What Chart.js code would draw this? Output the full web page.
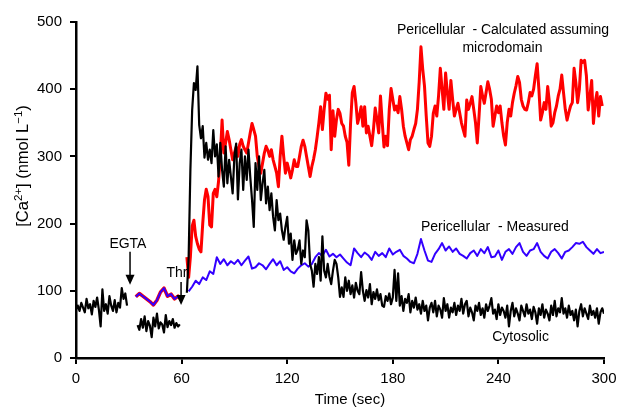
<!DOCTYPE html>
<html>
<head>
<meta charset="utf-8">
<script src="https://cdn.jsdelivr.net/npm/chart.js@4.4.0/dist/chart.umd.min.js"></script>
<style>
  html, body { margin: 0; padding: 0; background: #fff; }
  #wrap { width: 618px; height: 408px; }
</style>
</head>
<body>
<div id="wrap"><canvas id="chart" width="618" height="408"></canvas></div>
<script>
// 축 눈금
const xTicks = [0, 60, 120, 180, 240, 300];
const yTicks = [0, 100, 200, 300, 400, 500];

// 세포질 Ca2+ (검정) - 1초 간격
const cytoBeforeStart = 0;
const cytoBefore = [72, 78, 70, 82, 75, 68, 88, 74, 80, 65, 85, 76, 90, 72, 47, 102, 70, 80, 66, 92,
    78, 70, 86, 68, 82, 75, 104, 88, 96, 78];
const cytoEgtaStart = 35;
const cytoEgta = [49, 42, 58, 45, 62, 40, 55, 48, 31, 60, 47, 66, 44, 53, 50, 38, 64, 46, 55, 49,
    58, 45, 52, 47, 50];
const cytoAfterStart = 63;
const cytoAfter = [
    97, 150, 280, 369, 409, 399, 434, 347, 327, 345,
    298, 320, 295, 310, 290, 339, 300, 318, 270, 320,
    280, 255, 315, 260, 295, 270, 245, 300, 319, 236,
    290, 310, 250, 300, 265, 310, 270, 236, 195, 290,
    250, 300, 235, 260, 280, 230, 255, 220, 245, 210,
    190, 235, 205, 215, 190, 176, 195, 210, 170, 185,
    146, 175, 155, 161, 175, 140, 160, 150, 205, 190,
    140, 130, 106, 140, 125, 150, 115, 181, 130, 120,
    140, 121, 110, 130, 146, 140, 120, 91, 105, 91,
    120, 100, 115, 95, 108, 90, 112, 100, 95, 128,
    100, 85, 101, 90, 110, 80, 98, 88, 102, 86,
    95, 78, 76, 92, 85, 96, 80, 90, 131, 85,
    126, 78, 92, 70, 88, 82, 95, 68, 85, 75,
    90, 72, 80, 66, 85, 70, 78, 56, 75, 82,
    68, 85, 62, 78, 72, 60, 89, 70, 80, 60,
    75, 68, 82, 64, 78, 70, 88, 66, 80, 85,
    62, 75, 68, 56, 78, 70, 82, 64, 74, 60,
    80, 70, 78, 89, 66, 72, 58, 80, 64, 75,
    70, 60, 78, 47, 70, 82, 62, 74, 66, 56,
    78, 70, 62, 80, 66, 72, 58, 76, 68, 51,
    74, 64, 80, 60, 72, 66, 56, 78, 64, 85,
    62, 74, 68, 89, 66, 74, 60, 78, 64, 70,
    56, 72, 47, 70, 80, 62, 74, 66, 58, 78,
    64, 70, 60, 74, 51, 68, 74, 66];

// 세포 주위 측정값 (파랑) - 2초 간격
const measuredBeforeStart = 34;
const measuredBefore = [91, 96, 92, 88, 84, 79, 86, 98, 104, 92, 95, 88, 92, 86];
const measuredAfterStart = 64;
const measuredAfter = [
    99, 106, 115, 110, 120, 116, 129, 125, 150, 140,
    147, 138, 144, 140, 146, 138, 145, 151, 133, 135,
    141, 138, 132, 140, 147, 138, 144, 131, 135, 129,
    126, 133, 138, 141, 136, 140, 150, 156, 152, 161,
    151, 155, 150, 154, 148, 142, 138, 163, 156, 150,
    157, 153, 146, 158, 152, 156, 150, 163, 154, 158,
    161, 152, 148, 143, 141, 155, 177, 160, 145, 143,
    155, 162, 171, 160, 166, 158, 163, 155, 152, 148,
    156, 160, 152, 162, 156, 165, 150, 151, 160, 146,
    158, 162, 155, 165, 171, 158, 152, 160, 162, 171,
    158, 152, 148, 158, 162, 156, 148, 158, 160, 165,
    171, 170, 173, 165, 160, 155, 162, 156, 158];

// 미세영역 가정 계산값 (빨강)
const calcBeforeStart = 34;
const calcBefore = [91, 96, 92, 88, 84, 79, 86, 98, 104, 92, 95, 88, 92, 86];
const calcAfterStart = 63;
const calcAfter = [
    150, 120, 151, 196, 205, 181, 170, 162, 158, 200,
    235, 251, 240, 198, 195, 245, 251, 240, 263, 300,
    354, 305, 320, 337, 325, 310, 295, 305, 314, 300,
    318, 325, 315, 310, 305, 320, 335, 349, 340, 330,
    300, 285, 275, 290, 305, 315, 309, 300, 310, 295,
    285, 275, 255, 300, 330, 300, 275, 290, 280, 268,
    280, 295, 285, 285, 300, 315, 324, 315, 300, 285,
    270, 285, 296, 310, 329, 350, 374, 340, 370, 394,
    385, 391, 310, 368, 330, 355, 370, 364, 349, 345,
    330, 321, 287, 349, 395, 404, 380, 349, 360, 374,
    345, 374, 335, 345, 330, 316, 340, 372, 355, 335,
    390, 350, 314, 330, 316, 370, 401, 385, 369, 375,
    365, 389, 370, 345, 330, 320, 310, 325, 330, 340,
    349, 370, 411, 463, 430, 405, 360, 320, 315, 330,
    364, 375, 360, 390, 431, 400, 370, 424, 395, 370,
    413, 385, 360, 370, 379, 365, 350, 340, 330, 384,
    370, 379, 389, 370, 350, 320, 360, 404, 390, 379,
    395, 411, 400, 385, 345, 360, 375, 365, 375, 350,
    330, 317, 350, 370, 360, 380, 394, 405, 419, 410,
    385, 375, 370, 369, 380, 395, 390, 400, 420, 438,
    400, 354, 365, 380, 370, 404, 380, 345, 350, 365,
    375, 390, 400, 421, 395, 370, 354, 365, 375, 380,
    431, 410, 380, 400, 443, 440, 443, 420, 369, 390,
    413, 349, 380, 395, 360, 389, 375];

const FONT = "'Liberation Sans', Arial, sans-serif";
const BLUE = '#3300ff';
const RED = '#ff0000';

// 샘플 시간 격자에 값 매핑
function toPoints(start, step, values) {
    return values.map((v, i) => ({ x: start + i * step, y: v }));
}

function lineSet(points, color, width) {
    return {
        data: points,
        borderColor: color,
        borderWidth: width,
        pointRadius: 0,
        tension: 0,
        borderJoinStyle: 'round',
        fill: false
    };
}

// 주석 (텍스트, 화살표, 축 제목)
const notePlugin = {
    id: 'notes',
    afterDraw(chart) {
        const { ctx, scales: { x, y } } = chart;
        ctx.save();
        ctx.fillStyle = '#000';
        ctx.strokeStyle = '#000';
        ctx.font = `14px ${FONT}`;
        ctx.textAlign = 'center';
        ctx.textBaseline = 'alphabetic';

        const text = (s, t, v) => ctx.fillText(s, x.getPixelForValue(t), y.getPixelForValue(v));
        ctx.letterSpacing = '-0.1px';
        text('Pericellular  - Calculated assuming', 242.6, 482);
        ctx.letterSpacing = '0px';
        text('microdomain', 242.3, 456);
        text('Pericellular  - Measured', 238, 189.5);
        text('Cytosolic', 252.6, 25.3);
        text('EGTA', 29.5, 164);
        text('Thr', 57.4, 121);

        const arrow = (t, vTop, vTip) => {
            const px = x.getPixelForValue(t);
            const top = y.getPixelForValue(vTop);
            const tip = y.getPixelForValue(vTip);
            ctx.lineWidth = 1.5;
            ctx.beginPath();
            ctx.moveTo(px, top);
            ctx.lineTo(px, tip - 8);
            ctx.stroke();
            ctx.beginPath();
            ctx.moveTo(px - 4.5, tip - 10);
            ctx.lineTo(px + 4.5, tip - 10);
            ctx.lineTo(px, tip);
            ctx.closePath();
            ctx.fill();
        };
        arrow(30.7, 158, 109);
        arrow(59.7, 113, 79);

        // x축 제목
        ctx.font = `15px ${FONT}`;
        ctx.fillText('Time (sec)', 350, 404);

        // y축 제목 (위첨자 포함)
        const parts = [
            ['[Ca', false], ['2+', true], ['] (nmol L', false], ['\u22121', true], [')', false]
        ];
        const big = `16.5px ${FONT}`, small = `11.5px ${FONT}`;
        let total = 0;
        parts.forEach(([s, sup]) => { ctx.font = sup ? small : big; total += ctx.measureText(s).width; });
        ctx.translate(28, 166);
        ctx.rotate(-Math.PI / 2);
        ctx.textAlign = 'left';
        let pos = -total / 2;
        parts.forEach(([s, sup]) => {
            ctx.font = sup ? small : big;
            ctx.fillText(s, pos, sup ? -6.5 : 0);
            pos += ctx.measureText(s).width;
        });
        ctx.restore();
    }
};

const axisStyle = {
    border: { display: true, color: '#000', width: 2.5 },
    grid: { display: true, drawOnChartArea: false, drawTicks: true, tickLength: 6, color: '#000', lineWidth: 2 },
    ticks: { color: '#000', font: { family: FONT, size: 15 }, maxRotation: 0 }
};

new Chart(document.getElementById('chart'), {
    type: 'line',
    data: {
        datasets: [
            lineSet(toPoints(cytoBeforeStart, 1, cytoBefore), '#000', 2.2),
            lineSet(toPoints(cytoEgtaStart, 1, cytoEgta), '#000', 2.2),
            lineSet(toPoints(cytoAfterStart, 1, cytoAfter), '#000', 2.2),
            lineSet(toPoints(measuredBeforeStart, 2, measuredBefore), BLUE, 2),
            lineSet(toPoints(measuredAfterStart, 2, measuredAfter), BLUE, 2),
            lineSet(toPoints(calcBeforeStart, 2, calcBefore), RED, 3.5),
            lineSet(toPoints(calcAfterStart, 1, calcAfter), RED, 3)
        ]
    },
    options: {
        responsive: false,
        animation: false,
        layout: { padding: { top: 22, right: 14, left: 0, bottom: 0 } },
        plugins: { legend: { display: false }, tooltip: { enabled: false } },
        scales: {
            x: {
                type: 'linear', min: 0, max: 300,
                ...axisStyle,
                ticks: { ...axisStyle.ticks, padding: 6 },
                afterBuildTicks: s => { s.ticks = xTicks.map(v => ({ value: v })); },
                afterFit: s => { s.height = 50; s.paddingLeft = 0; s.paddingRight = 0; }
            },
            y: {
                type: 'linear', min: 0, max: 500,
                ...axisStyle,
                ticks: { ...axisStyle.ticks, padding: 8 },
                afterBuildTicks: s => { s.ticks = yTicks.map(v => ({ value: v })); },
                afterFit: s => { s.width = 76; s.paddingTop = 0; s.paddingBottom = 0; }
            }
        }
    },
    plugins: [notePlugin]
});
</script>
</body>
</html>
